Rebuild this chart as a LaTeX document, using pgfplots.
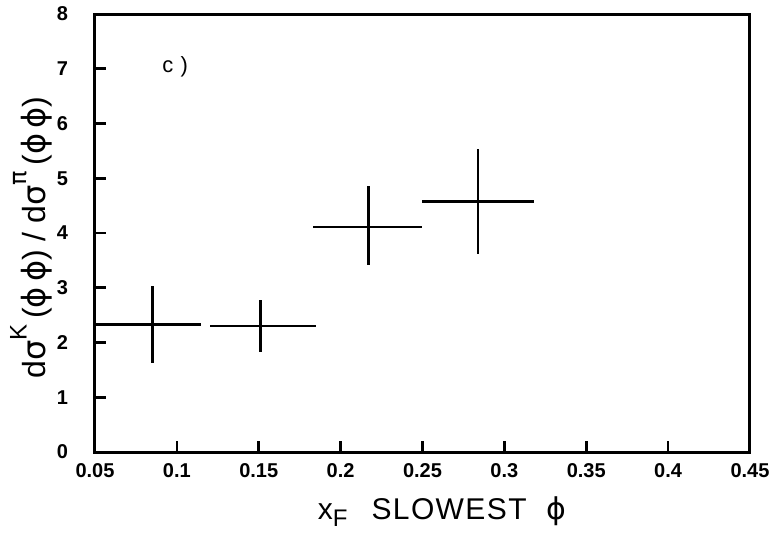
\documentclass[border=0pt]{standalone}
\usepackage{fontspec}
\setmainfont{Liberation Sans}
\newfontfamily\dv{DejaVu Sans}
\usepackage{pgfplots}
\pgfplotsset{compat=1.18}
\newcommand\ks{\kern0.7pt}
\begin{document}
\begin{tikzpicture}
\begin{axis}[
  at={(0,0)}, anchor=south west,
  scale only axis,
  width=327.5pt, height=219pt,
  xmin=0.05, xmax=0.45, ymin=0, ymax=8,
  axis line style={line width=1.5pt},
  tick align=inside,
  xtick pos=bottom, ytick pos=left,
  major tick length=5.5pt,
  tick style={line width=1.3pt, black},
  xtick={0.05,0.1,0.15,0.2,0.25,0.3,0.35,0.4,0.45},
  xticklabels={0.05,0.1,0.15,0.2,0.25,0.3,0.35,0.4,0.45},
  ytick={0,1,2,3,4,5,6,7,8},
  yticklabels={0,1,2,3,4,5,6,7,8},
  xticklabel style={font=\fontsize{10}{11}\selectfont\bfseries, yshift=-2pt},
  yticklabel style={font=\fontsize{10}{11}\selectfont\bfseries, xshift=-10pt},
  xlabel={\fontsize{15}{17}\selectfont x\raisebox{-0.45ex}{\fontsize{12}{13}\selectfont F}\kern12pt S\ks L\ks O\ks W\ks E\ks S\ks T\kern10pt{\dv ϕ}},
  xlabel style={at={(axis description cs:0.53,0)}, anchor=center, yshift=-30pt},
  ylabel={\fontsize{16}{18}\selectfont d{\dv σ}\raisebox{1.1ex}{\fontsize{12}{13}\selectfont K}\,({\dv ϕ\,ϕ})\ /\ d{\dv σ}\raisebox{1.1ex}{\fontsize{12}{13}\selectfont\dv π}\,({\dv ϕ\,ϕ})},
  ylabel style={at={(axis description cs:0,0.49)}, anchor=center, yshift=32pt},
  clip=false,
]
\addplot[draw=none, mark=none,
  error bars/.cd, x dir=both, x explicit, y dir=both, y explicit,
  error mark=none, error bar style={draw=black, line width=1.3pt}]
coordinates {
  (0.085,2.33) += (0.030,0.70) -= (0.035,0.70)
  (0.151,2.30) += (0.034,0.48) -= (0.031,0.48)
  (0.217,4.11) += (0.033,0.75) -= (0.034,0.70)
  (0.284,4.58) += (0.034,0.96) -= (0.034,0.97)
};
\node[font=\fontsize{11}{12}\selectfont] at (axis cs:0.099,7.03) {c\,\,)};
\end{axis}
\pgfresetboundingbox
\path[use as bounding box] (-47.5pt,-43pt) rectangle (341pt,226pt);
\end{tikzpicture}
\end{document}
